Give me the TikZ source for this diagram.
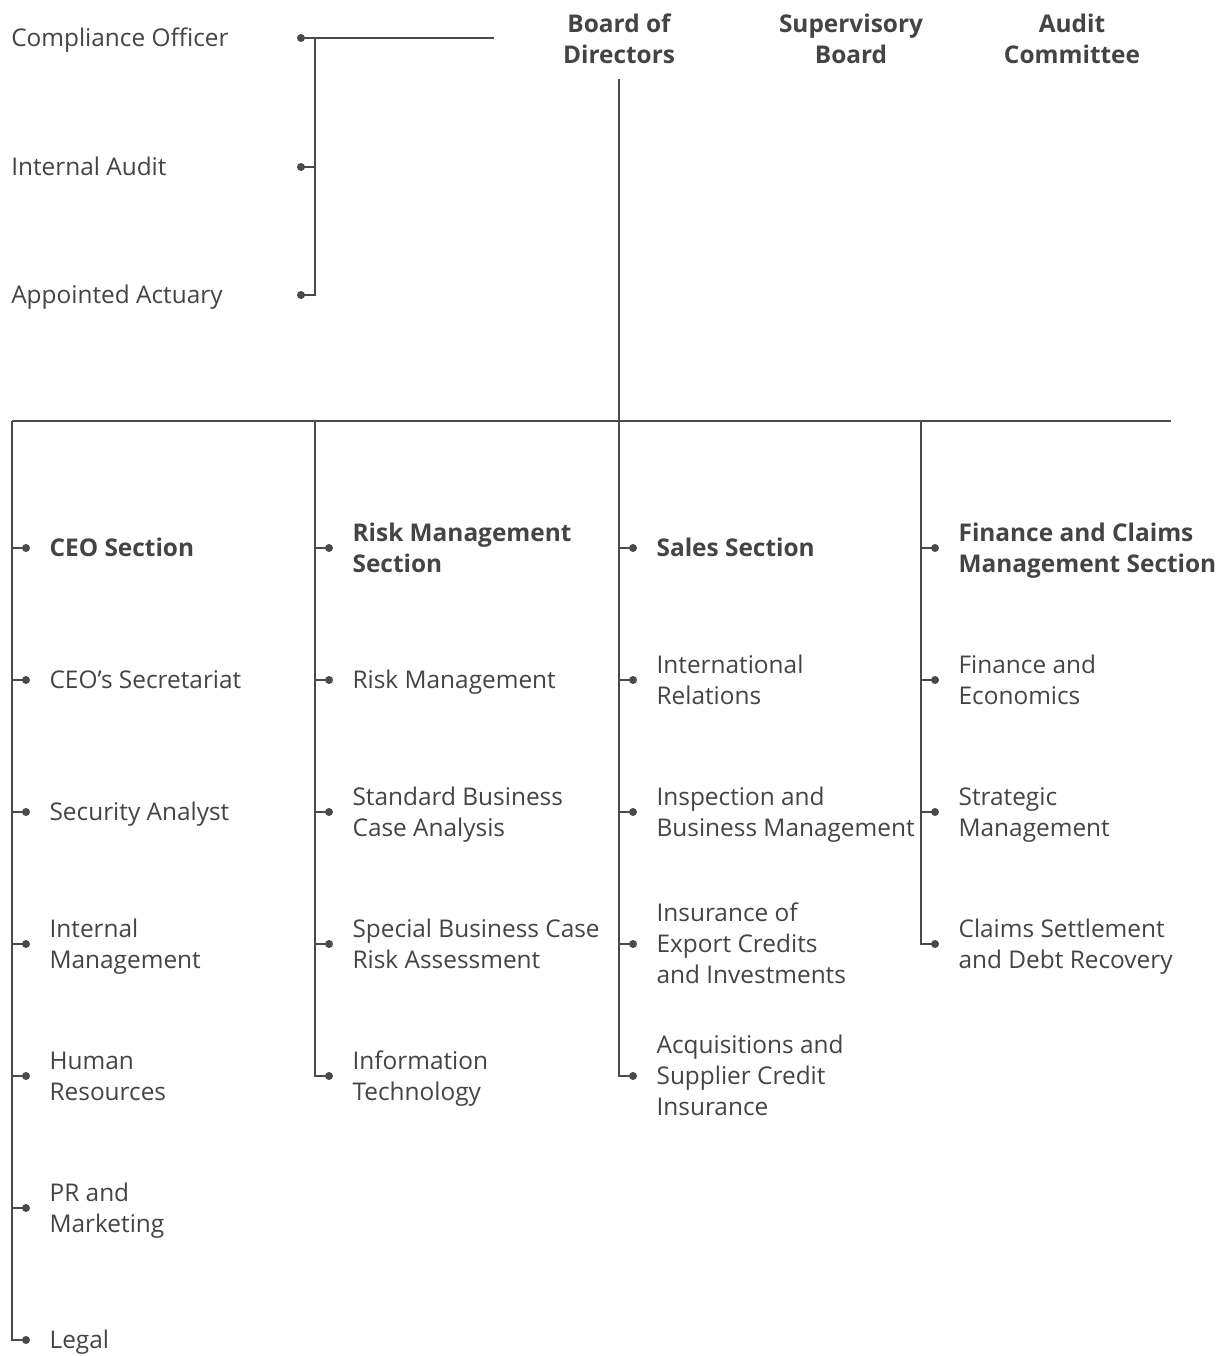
\documentclass[tikz,border=0pt]{standalone}
\usepackage{fontspec}
\setmainfont{Open Sans}
\usepackage{xcolor}
\usetikzlibrary{positioning}
\definecolor{cInk}{HTML}{444444}
\definecolor{cLine}{HTML}{4A4A4A}
\tikzset{
  unit/.style={font=\fontsize{18.3}{23.3}\selectfont,text=cInk,align=left,inner sep=0pt,anchor=west,yshift=-1.8pt},
  sect/.style={unit,font=\fontsize{18.3}{23.3}\selectfont\bfseries},
  head/.style={font=\fontsize{18.3}{23.3}\selectfont\bfseries,text=cInk,align=center,inner sep=0pt},
  wire/.style={draw=cLine,line width=1.5pt},
  pin/.style={circle,fill=cLine,inner sep=0pt,minimum size=6pt},
}

\begin{document}
\begin{tikzpicture}[x=0.75pt,y=-0.75pt]
    \useasboundingbox (0,0) rectangle (1228,1356);
    % governing bodies
    \node[head] (board) at (619,39) {Board of\\Directors};
    \node[head] (super) at (851,39) {Supervisory\\Board};
    \node[head] (audit) at (1072,39) {Audit\\Committee};
    % staff units reporting to the board
    \coordinate (tspine) at (315,38);
    \coordinate (topend) at (494,38);
    \foreach \r/\y/\t in {1/38/{Compliance Officer},2/167/{Internal Audit},3/295/{Appointed Actuary}}
      {\coordinate (p\r) at (301,\y);
       \node[pin] at (p\r) {};
       \node[unit] (u\r) at (11,\y) {\strut\t\strut};}
    \draw[wire] (p1) -- (topend);
    \draw[wire] (p1 -| tspine) |- (p3);
    \draw[wire] (p2) -- (p2 -| tspine);
    % main bus
    \coordinate (hub) at (619,421);
    \coordinate (busL) at (12,421);
    \coordinate (busR) at (1171,421);
    \draw[wire,shorten <=11pt] (board.south) -- (hub);
    \draw[wire] (busL) -- (busR);
    \foreach \c/\x in {1/12,2/315,3/619,4/921}
      \coordinate (s\c) at (\x,421);
    % sections and departments
    \foreach \c/\x/\r/\t in {
        1/12/1/{CEO Section},1/12/2/{CEO’s Secretariat},1/12/3/{Security Analyst},1/12/4/{Internal\\Management},
        1/12/5/{Human\\Resources},1/12/6/{PR and\\Marketing},1/12/7/{Legal},
        2/315/1/{Risk Management\\Section},2/315/2/{Risk Management},2/315/3/{Standard Business\\Case Analysis},
        2/315/4/{Special Business Case\\Risk Assessment},2/315/5/{Information\\Technology},
        3/619/1/{Sales Section},3/619/2/{International\\Relations},3/619/3/{Inspection and\\Business Management},
        3/619/4/{Insurance of\\Export Credits\\and Investments},3/619/5/{Acquisitions and\\Supplier Credit\\Insurance},
        4/921/1/{Finance and Claims\\Management Section},4/921/2/{Finance and\\Economics},4/921/3/{Strategic\\Management},
        4/921/4/{Claims Settlement\\and Debt Recovery}}
      {\ifnum\r=1 \def\kind{sect}\else\def\kind{unit}\fi
       \coordinate (d\c\r) at ({\x+14},{548+(\r-1)*132});
       \node[pin] at (d\c\r) {};
       \node[\kind,right=17.5pt of d\c\r] (t\c\r) {\strut\t\strut};
       \draw[wire] (d\c\r) -- (d\c\r -| s\c);}
    \foreach \c/\n in {1/7,2/5,3/5,4/4}
      \draw[wire] (s\c) |- (d\c\n);
  \end{tikzpicture}
\end{document}
